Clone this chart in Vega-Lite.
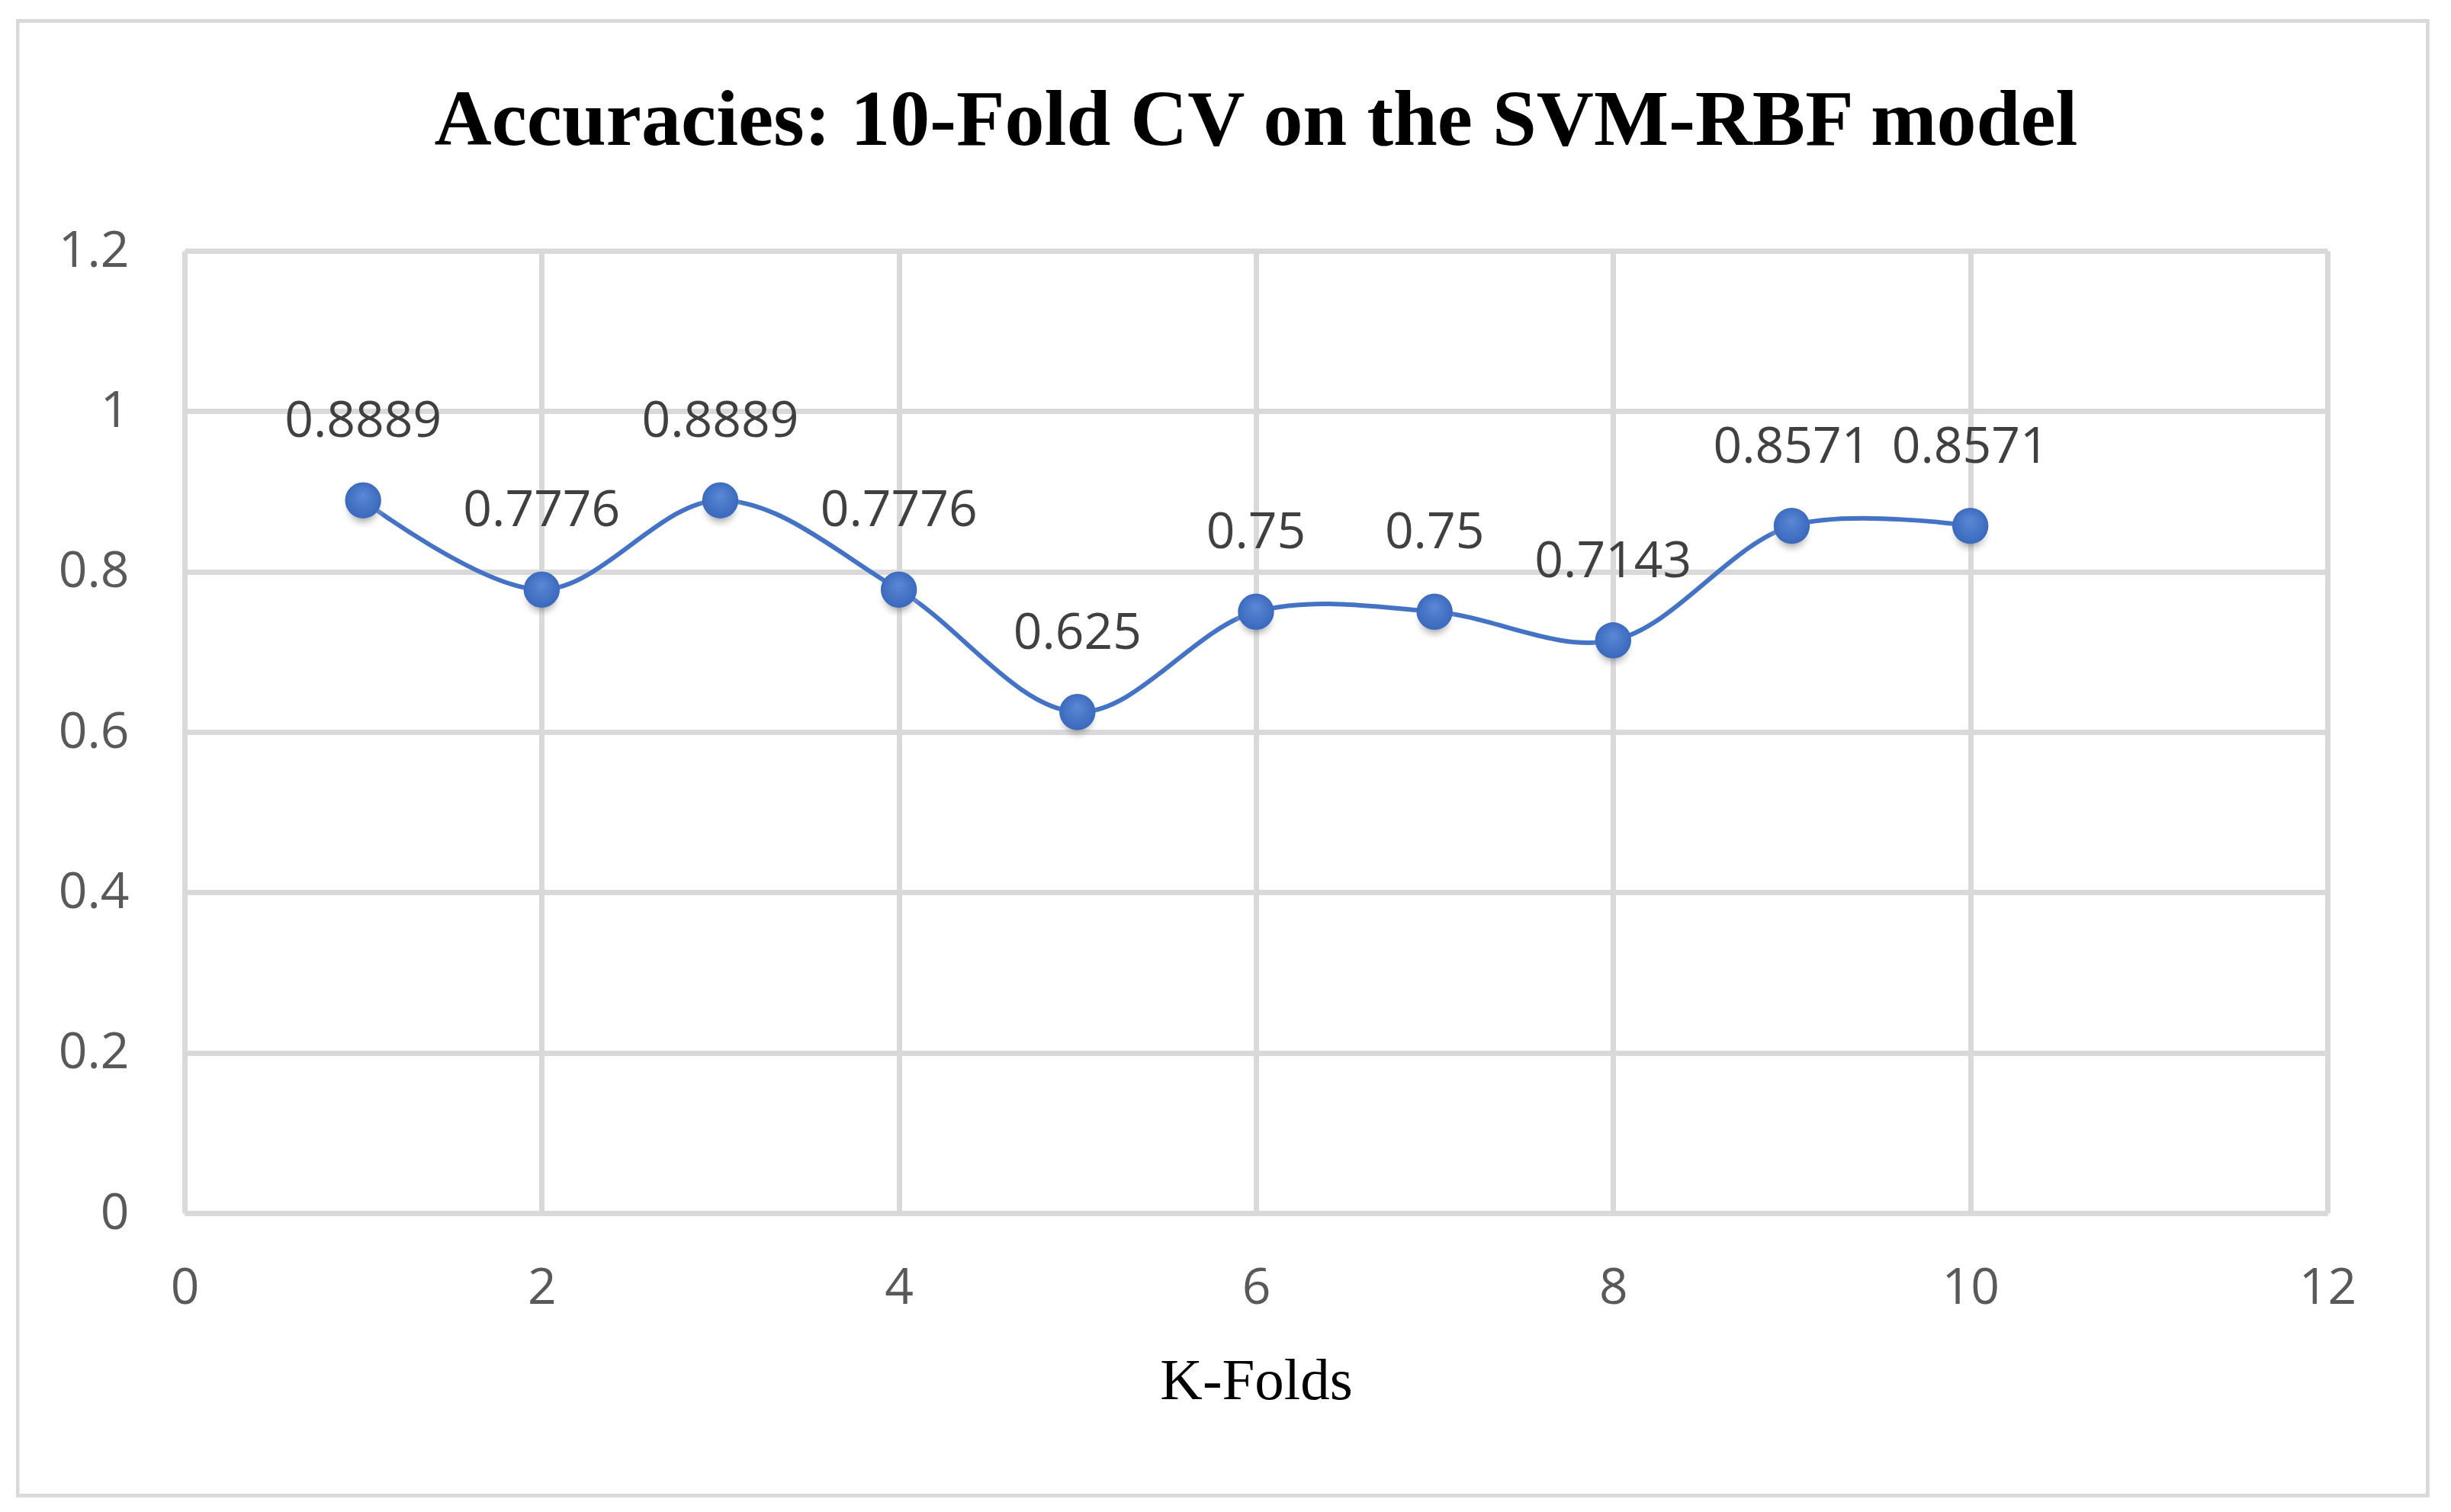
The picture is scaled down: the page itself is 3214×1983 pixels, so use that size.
{
  "$schema": "https://vega.github.io/schema/vega-lite/v6.json",
  "width": 2810,
  "height": 1262,
  "autosize": "none",
  "padding": {"left": 242, "top": 329, "right": 162, "bottom": 392},
  "background": "white",
  "title": {
    "text": "Accuracies: 10-Fold CV on the SVM-RBF model",
    "font": "Liberation Serif",
    "fontSize": 104,
    "fontWeight": "bold",
    "color": "#000000",
    "anchor": "middle",
    "frame": "group",
    "baseline": "alphabetic",
    "offset": -269
  },
  "config": {
    "view": {"stroke": null},
    "axis": {
      "labelFont": "Open Sans",
      "labelFontSize": 66,
      "labelColor": "#595959",
      "labelFlush": false,
      "gridColor": "#d9d9d9",
      "gridWidth": 7,
      "ticks": false,
      "tickSize": 0
    }
  },
  "data": {
    "values": [
      {"fold": 1, "accuracy": 0.8889},
      {"fold": 2, "accuracy": 0.7776},
      {"fold": 3, "accuracy": 0.8889},
      {"fold": 4, "accuracy": 0.7776},
      {"fold": 5, "accuracy": 0.625},
      {"fold": 6, "accuracy": 0.75},
      {"fold": 7, "accuracy": 0.75},
      {"fold": 8, "accuracy": 0.7143},
      {"fold": 9, "accuracy": 0.8571},
      {"fold": 10, "accuracy": 0.8571}
    ]
  },
  "encoding": {
    "x": {
      "field": "fold",
      "type": "quantitative",
      "scale": {"domain": [0, 12], "nice": false},
      "axis": {
        "values": [0, 2, 4, 6, 8, 10, 12],
        "title": "K-Folds",
        "titleFont": "Liberation Serif",
        "titleFontSize": 77,
        "titleFontWeight": "normal",
        "titleColor": "#000000",
        "titleBaseline": "alphabetic",
        "titleY": 243,
        "labelPadding": 66,
        "domainColor": "#d9d9d9",
        "domainWidth": 7
      }
    },
    "y": {
      "field": "accuracy",
      "type": "quantitative",
      "scale": {"domain": [0, 1.2], "nice": false},
      "axis": {
        "values": [0, 0.2, 0.4, 0.6, 0.8, 1, 1.2],
        "format": "~g",
        "title": null,
        "domain": false,
        "labelPadding": 73
      }
    }
  },
  "layer": [
    {
      "mark": {"type": "rect", "fill": null, "stroke": "#d9d9d9", "strokeWidth": 4},
      "encoding": {
        "x": {"datum": -0.935},
        "x2": {"datum": 12.56},
        "y": {"datum": 1.487},
        "y2": {"datum": -0.352}
      }
    },
    {
      "mark": {"type": "line", "interpolate": "catmull-rom", "color": "#4472c4", "strokeWidth": 6}
    },
    {
      "mark": {
        "type": "point",
        "filled": true,
        "size": 3400,
        "yOffset": 10,
        "opacity": 0.5,
        "color": {
          "gradient": "radial",
          "stops": [
            {"offset": 0, "color": "#555555"},
            {"offset": 0.5, "color": "#777777"},
            {"offset": 1, "color": "rgba(255,255,255,0)"}
          ]
        }
      }
    },
    {
      "mark": {
        "type": "point",
        "filled": true,
        "size": 2250,
        "opacity": 1,
        "color": {
          "gradient": "radial",
          "x1": 0.5, "y1": 0.35, "r1": 0,
          "x2": 0.5, "y2": 0.5, "r2": 0.6,
          "stops": [
            {"offset": 0, "color": "#5b88d6"},
            {"offset": 1, "color": "#3563b8"}
          ]
        }
      }
    },
    {
      "mark": {
        "type": "text",
        "font": "Open Sans",
        "fontSize": 66,
        "color": "#404040",
        "baseline": "alphabetic",
        "align": "center",
        "dy": -83
      },
      "encoding": {"text": {"field": "accuracy", "type": "nominal"}}
    }
  ]
}
